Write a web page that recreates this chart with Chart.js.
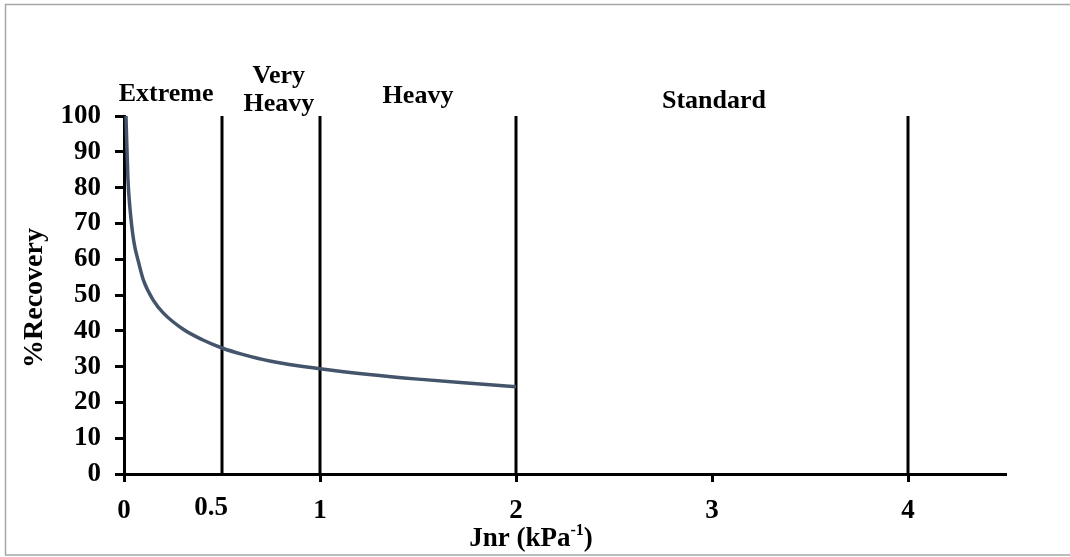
<!DOCTYPE html>
<html>
<head>
<meta charset="utf-8">
<script src="https://cdn.jsdelivr.net/npm/chart.js@4.4.1/dist/chart.umd.min.js"></script>
<style>
  html, body { margin: 0; padding: 0; background: #fff; }
  #wrap { width: 1070px; height: 557px; }
</style>
</head>
<body>
<div id="wrap"><canvas id="recoveryChart" width="1070" height="557"></canvas></div>
<script>
// MSCR curve: %Recovery against Jnr (kPa^-1)
const jnrValues = [0.01, 0.02, 0.03, 0.05, 0.075, 0.1, 0.15, 0.2, 0.3, 0.4, 0.5, 0.6, 0.75, 1.0, 1.25, 1.5, 1.75, 2.0];
const recoveryValues = [100, 82.5, 74.5, 65, 59, 54, 48.5, 45, 40.5, 37.5, 35.2, 33.5, 31.5, 29.4, 27.8, 26.5, 25.4, 24.4];

// traffic level limits and their names
const limitJnr = [0.5, 1, 2, 4];
const trafficLabels = [["Extreme"], ["Very", "Heavy"], ["Heavy"], ["Standard"]];

const xTicks = [0, 1, 2, 3, 4];
const extraXLabel = "0.5";
const yTitle = "%Recovery";
const xTitle = ["Jnr (kPa", "-1", ")"];

const serif = "'Liberation Serif', 'Times New Roman', serif";
const curveColor = "#44546a";

// where the traffic names sit (x in Jnr units, y in px)
const trafficLabelPos = [
	{x: 0.215, y: [94]},
	{x: 0.79, y: [76, 104]},
	{x: 1.5, y: [96]},
	{x: 3.01, y: [101]}
];

function makeLimitLine(v) {
	return {
		data: [{x: v, y: 0}, {x: v, y: 100}],
		borderColor: "#000",
		borderWidth: 3,
		pointRadius: 0,
		order: 1
	};
}

const framePlugin = {
	id: "frame",
	beforeDraw(chart) {
		const ctx = chart.ctx;
		ctx.save();
		ctx.fillStyle = "#fff";
		ctx.fillRect(0, 0, chart.width, chart.height);
		ctx.strokeStyle = "#a6a6a6";
		ctx.lineWidth = 1.5;
		ctx.beginPath();
		ctx.moveTo(chart.width, 4.5);
		ctx.lineTo(5.5, 4.5);
		ctx.lineTo(5.5, 555);
		ctx.lineTo(chart.width, 555);
		ctx.stroke();
		ctx.restore();
	}
};

const textPlugin = {
	id: "texts",
	afterDraw(chart) {
		const ctx = chart.ctx;
		const xs = chart.scales.x;
		ctx.save();
		ctx.fillStyle = "#000";
		ctx.font = "bold 26px " + serif;
		ctx.textAlign = "center";
		ctx.textBaseline = "middle";

		trafficLabels.forEach((lines, i) => {
			const p = trafficLabelPos[i];
			lines.forEach((t, j) => ctx.fillText(t, xs.getPixelForValue(p.x), p.y[j]));
		});

		// 0.5 sits just left of its limit line
		ctx.font = "bold 27px " + serif;
		ctx.fillText(extraXLabel, xs.getPixelForValue(0.5) - 11, 508);

		// x title with superscript
		const big = "bold 27px " + serif, small = "bold 16px " + serif;
		ctx.font = big;
		const w1 = ctx.measureText(xTitle[0]).width, w3 = ctx.measureText(xTitle[2]).width;
		ctx.font = small;
		const w2 = ctx.measureText(xTitle[1]).width;
		let x = 531 - (w1 + w2 + w3) / 2;
		ctx.textAlign = "left";
		ctx.textBaseline = "alphabetic";
		ctx.font = big;
		ctx.fillText(xTitle[0], x, 546);
		x += w1;
		ctx.font = small;
		ctx.fillText(xTitle[1], x, 535);
		x += w2;
		ctx.font = big;
		ctx.fillText(xTitle[2], x, 546);

		// y title
		ctx.translate(35, 298);
		ctx.rotate(-Math.PI / 2);
		ctx.textAlign = "center";
		ctx.textBaseline = "middle";
		ctx.font = "bold 28px " + serif;
		ctx.fillText(yTitle, 0, 0);
		ctx.restore();
	}
};

function setupChart() {
	Chart.defaults.font.family = serif;
	Chart.defaults.font.size = 27;
	Chart.defaults.font.weight = "bold";
	Chart.defaults.color = "#000";

	const ctx = document.getElementById("recoveryChart").getContext("2d");
	const datasets = limitJnr.map(makeLimitLine);
	datasets.push({
		data: jnrValues.map((v, i) => ({x: v, y: recoveryValues[i]})),
		borderColor: curveColor,
		borderWidth: 3.5,
		pointRadius: 0,
		cubicInterpolationMode: "monotone",
		order: 0
	});

	new Chart(ctx, {
		type: "line",
		data: {datasets: datasets},
		options: {
			responsive: false,
			animation: false,
			devicePixelRatio: 1,
			layout: {padding: {top: 116, right: 64, left: 0, bottom: 0}},
			plugins: {legend: {display: false}, tooltip: {enabled: false}},
			scales: {
				x: {
					type: "linear",
					min: 0,
					max: 4.5,
					afterBuildTicks: scale => { scale.ticks = xTicks.map(v => ({value: v})); },
					afterFit: scale => { scale.height = 83; },
					grid: {drawOnChartArea: false, drawTicks: true, tickLength: 8, tickColor: "#000", tickWidth: 3},
					border: {color: "#000", width: 3},
					ticks: {padding: 13, maxRotation: 0, color: "#000"}
				},
				y: {
					min: 0,
					max: 100,
					afterFit: scale => { scale.width = 124; },
					grid: {drawOnChartArea: false, drawTicks: true, tickLength: 9, tickColor: "#000", tickWidth: 3},
					border: {color: "#000", width: 3},
					ticks: {stepSize: 10, padding: 14, color: "#000"}
				}
			}
		},
		plugins: [framePlugin, textPlugin]
	});
}

setupChart();
</script>
</body>
</html>
